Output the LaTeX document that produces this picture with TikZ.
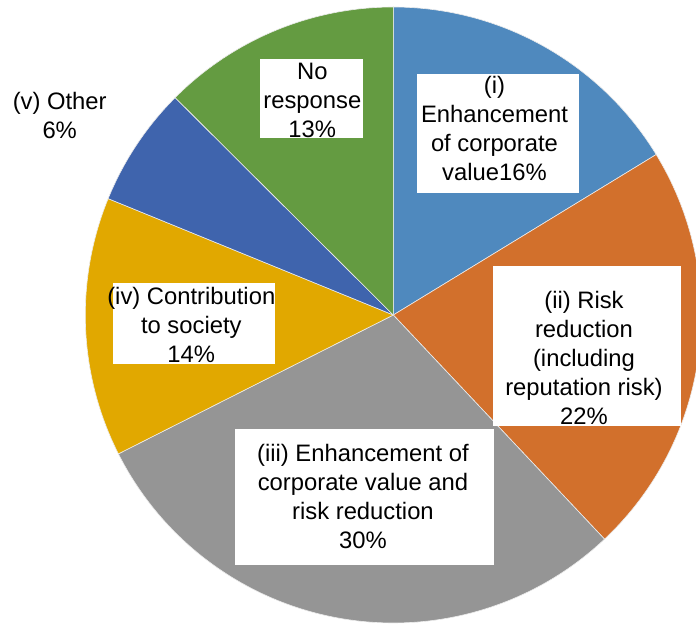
\documentclass[tikz,border=0pt]{standalone}
\usepackage{fontspec}
\setmainfont{Liberation Sans}
\definecolor{cI}{HTML}{4F89BE}
\definecolor{cII}{HTML}{D2702C}
\definecolor{cIII}{HTML}{959595}
\definecolor{cIV}{HTML}{E1A800}
\definecolor{cV}{HTML}{3F64AD}
\definecolor{cNR}{HTML}{649B41}
\tikzset{
  slice/.style={draw=white!85!gray, line width=0.6pt, line join=round},
  labelbox/.style={fill=white, draw=none, inner sep=0pt, anchor=south west},
  labeltext/.style={anchor=north, inner sep=0pt, align=center, text=black,
    font=\fontsize{23.8}{29}\selectfont}
}
\newcommand{\pieslice}[4]{%
  \fill[#4] (c) -- ++(#1:308) arc[start angle=#1, end angle=#2, radius=308] -- cycle;
  \draw[slice] (c) -- ++(#1:308) arc[start angle=#1, end angle=#2, radius=308] -- cycle;
}
\begin{document}
\begin{tikzpicture}[x=1pt,y=1pt]
\useasboundingbox (0,0) rectangle (696,625);
\clip (0,0) rectangle (696,625);
\coordinate (c) at (393.3,310);
% slices
\pieslice{31.4}{90}{x}{cI}
\pieslice{-46.7}{31.4}{x}{cII}
\pieslice{-153.2}{-46.7}{x}{cIII}
\pieslice{157.8}{206.8}{x}{cIV}
\pieslice{135.1}{157.8}{x}{cV}
\pieslice{90}{135.1}{x}{cNR}
% label boxes
\node[labelbox, minimum width=162.3pt, minimum height=119pt] (boxi) at (416.7,432) {};
\node[labelbox, minimum width=188.3pt, minimum height=160pt] (boxii) at (492.7,199.3) {};
\node[labelbox, minimum width=258.3pt, minimum height=136pt] (boxiii) at (235,60) {};
\node[labelbox, minimum width=162.3pt, minimum height=80.7pt] (boxiv) at (112.7,261) {};
\node[labelbox, minimum width=103pt, minimum height=79pt] (boxnr) at (260,487) {};
% label texts
\node[labeltext] (ti) at (494.5,548.5) {(i)\\Enhancement\\of corporate\\value16\%};
\node[labeltext] (tii) at (584,334.4) {(ii) Risk\\reduction\\(including\\reputation risk)\\22\%};
\node[labeltext] (tiii) at (363,181.4) {(iii) Enhancement of\\corporate value and\\risk reduction\\30\%};
\node[labeltext] (tiv) at (191.3,338) {(iv) Contribution\\to society\\14\%};
\node[labeltext] (tnr) at (312.3,562) {No\\response\\13\%};
\node[labeltext] (tv) at (59.7,533.2) {(v) Other\\6\%};
\end{tikzpicture}
\end{document}
